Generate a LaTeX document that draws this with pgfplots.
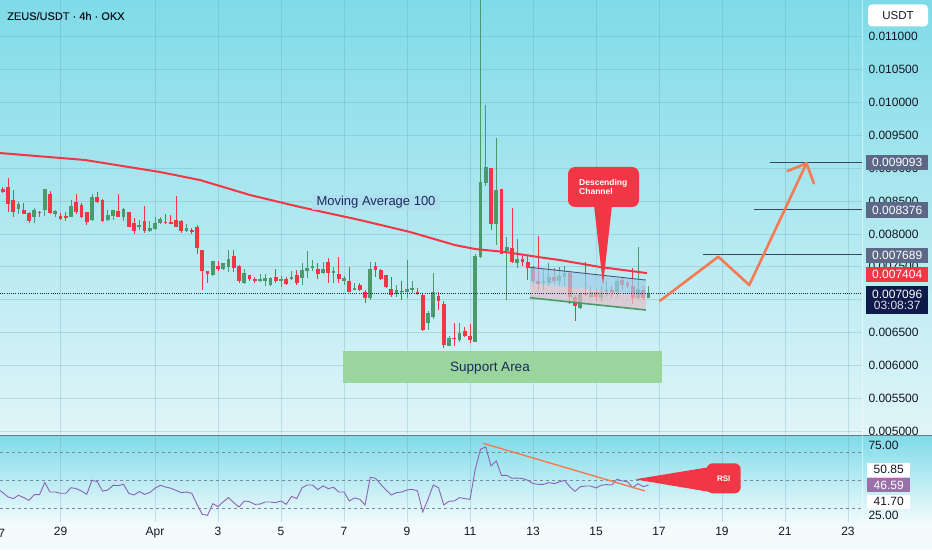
\documentclass[border=0pt]{standalone}
\usepackage{fontspec}
\setmainfont{Liberation Sans}
\usepackage{pgfplots}
\pgfplotsset{compat=1.18}
\usepackage{pgfplotstable}
\newcommand{\fs}[1]{\fontsize{#1}{#1}\selectfont}
\definecolor{bgtop}{HTML}{7FDBE8}
\definecolor{bgbot}{HTML}{E0F5F8}
\definecolor{rsibot}{HTML}{F0FAFC}
\definecolor{botband}{HTML}{F3FBFC}
\definecolor{cgreen}{HTML}{4A9A6C}
\definecolor{cred}{HTML}{F23645}
\definecolor{txt}{HTML}{131722}
\definecolor{navy}{HTML}{1B2A5C}
\definecolor{slate}{HTML}{5D6886}
\definecolor{curbox}{HTML}{0E1A4A}
\definecolor{rsipurple}{HTML}{8A63B8}
\definecolor{rsibox}{HTML}{9A70A8}
\definecolor{orng}{HTML}{F47B52}
\definecolor{supp}{HTML}{9AD59E}
\definecolor{chblue}{HTML}{9FCFEA}
\definecolor{chpink}{HTML}{E6BEC8}
\definecolor{gridc}{HTML}{5E9FAE}
\definecolor{tline}{HTML}{3A4666}
\definecolor{mabox}{HTML}{AEDDEF}
\definecolor{sepc}{HTML}{6B7B8C}
\definecolor{dashc}{HTML}{7A8AA0}

\pgfplotstableread{
i o h l c
3 0.00838 0.00848 0.00831 0.00845
6 0.00826 0.00839 0.00816 0.00837
8 0.00836 0.00869 0.00828 0.00868
10 0.00831 0.00837 0.00826 0.00835
13 0.00826 0.00851 0.00826 0.00842
17 0.00821 0.00860 0.00820 0.00856
20 0.00821 0.00837 0.00819 0.00829
21 0.00828 0.00837 0.00821 0.00836
23 0.00826 0.00839 0.00820 0.00838
26 0.00810 0.00821 0.00806 0.00813
28 0.00805 0.00820 0.00803 0.00809
29 0.00808 0.00826 0.00806 0.00817
30 0.00816 0.00826 0.00815 0.00823
35 0.00805 0.00815 0.00803 0.00809
40 0.00738 0.00759 0.00736 0.00759
42 0.00746 0.00756 0.00745 0.00755
43 0.00750 0.00776 0.00742 0.00762
46 0.00725 0.00746 0.00724 0.00741
49 0.00729 0.00739 0.00727 0.00731
50 0.00728 0.00739 0.00720 0.00733
51 0.00722 0.00735 0.00720 0.00733
53 0.00728 0.00736 0.00719 0.00731
55 0.00732 0.00743 0.00730 0.00734
57 0.00733 0.00756 0.00722 0.00745
58 0.00743 0.00774 0.00733 0.00748
59 0.00748 0.00761 0.00743 0.00751
61 0.00741 0.00758 0.00739 0.00747
63 0.00741 0.00749 0.00726 0.00744
65 0.00728 0.00736 0.00722 0.00733
67 0.00715 0.00726 0.00714 0.00718
70 0.00702 0.00758 0.00700 0.00746
75 0.00709 0.00722 0.00704 0.00714
77 0.00711 0.00760 0.00702 0.00716
78 0.00715 0.00728 0.00710 0.00717
81 0.00665 0.00682 0.00654 0.00679
82 0.00674 0.00741 0.00671 0.00711
85 0.00630 0.00645 0.00629 0.00642
87 0.00639 0.00664 0.00636 0.00649
90 0.00636 0.00769 0.00635 0.00766
91 0.00765 0.01200 0.00764 0.00879
92 0.00877 0.00996 0.00873 0.00902
94 0.00815 0.00946 0.00783 0.00867
96 0.00774 0.00796 0.00699 0.00780
98 0.00755 0.00793 0.00748 0.00762
103 0.00725 0.00746 0.00715 0.00728
104 0.00726 0.00756 0.00720 0.00735
106 0.00728 0.00750 0.00720 0.00736
107 0.00734 0.00751 0.00720 0.00741
110 0.00688 0.00711 0.00685 0.00709
112 0.00704 0.00719 0.00703 0.00712
114 0.00703 0.00721 0.00697 0.00712
115 0.00711 0.00728 0.00704 0.00714
117 0.00712 0.00731 0.00702 0.00729
121 0.00702 0.00780 0.00699 0.00716
123 0.00702 0.00720 0.00702 0.007096
}\greentab

\pgfplotstableread{
i o h l c
-1 0.00895 0.00897 0.00872 0.00876
0 0.00869 0.00872 0.00862 0.00864
1 0.00872 0.00885 0.00834 0.00845
2 0.00852 0.00867 0.00826 0.00833
4 0.00837 0.00847 0.00831 0.00831
5 0.00832 0.00834 0.00817 0.00819
7 0.00834 0.00835 0.00826 0.00832
9 0.00860 0.00866 0.00831 0.00832
11 0.00828 0.00832 0.00821 0.00823
12 0.00827 0.00833 0.00820 0.00824
14 0.00848 0.00860 0.00831 0.00834
15 0.00844 0.00847 0.00824 0.00826
16 0.00833 0.00834 0.00814 0.00818
18 0.00856 0.00864 0.00847 0.00849
19 0.00851 0.00853 0.00818 0.00819
22 0.00835 0.00860 0.00825 0.00826
24 0.00833 0.00834 0.00810 0.00811
25 0.00817 0.00824 0.00800 0.00805
27 0.00820 0.00842 0.00802 0.00805
31 0.00818 0.00830 0.00815 0.00816
32 0.00818 0.00829 0.00815 0.00815
33 0.00821 0.00857 0.00810 0.00811
34 0.00820 0.00821 0.00802 0.00805
36 0.00806 0.00809 0.00800 0.00803
37 0.00811 0.00814 0.00769 0.00779
38 0.00775 0.00776 0.00714 0.00743
39 0.00743 0.00743 0.00726 0.00739
41 0.00751 0.00759 0.00744 0.00746
44 0.00766 0.00775 0.00742 0.00748
45 0.00751 0.00752 0.00725 0.00728
47 0.00737 0.00738 0.00728 0.00731
48 0.00731 0.00735 0.00726 0.00729
52 0.00735 0.00747 0.00726 0.00728
54 0.00732 0.00735 0.00723 0.00724
56 0.00738 0.00745 0.00722 0.00725
60 0.00747 0.00756 0.00731 0.00739
62 0.00758 0.00764 0.00726 0.00740
64 0.00739 0.00765 0.00725 0.00732
66 0.00728 0.00750 0.00711 0.00712
68 0.00722 0.00726 0.00713 0.00715
69 0.00712 0.00715 0.00695 0.00702
71 0.00751 0.00758 0.00735 0.00745
72 0.00745 0.00747 0.00730 0.00731
73 0.00738 0.00738 0.00717 0.00719
74 0.00716 0.00735 0.00704 0.00707
76 0.00713 0.00728 0.00699 0.00711
79 0.00712 0.00717 0.00707 0.00710
80 0.00707 0.00710 0.00653 0.00654
83 0.00706 0.00711 0.00684 0.00698
84 0.00694 0.00698 0.00626 0.00631
86 0.00642 0.00664 0.00629 0.00640
88 0.00652 0.00659 0.00643 0.00644
89 0.00644 0.00663 0.00634 0.00638
93 0.00900 0.00900 0.00806 0.00815
95 0.00869 0.00869 0.00769 0.00770
97 0.00778 0.00839 0.00756 0.00758
99 0.00762 0.00767 0.00751 0.00758
100 0.00758 0.00766 0.00730 0.00748
101 0.00748 0.00751 0.00725 0.00728
102 0.00728 0.00797 0.00715 0.00724
105 0.00734 0.00748 0.00724 0.00728
108 0.00741 0.00743 0.00694 0.00704
109 0.00704 0.00707 0.00667 0.00690
111 0.00710 0.00758 0.00706 0.00707
113 0.00712 0.00716 0.00698 0.00704
116 0.00715 0.00720 0.00702 0.00711
118 0.00730 0.00735 0.00715 0.00722
119 0.00726 0.00728 0.00717 0.00720
120 0.00721 0.00748 0.00694 0.00702
122 0.00715 0.00720 0.00699 0.00702
}\redtab

\pgfplotstableread{
i r
-1 44.0
0 41.2
1 38.1
2 36.9
3 39.3
4 37.6
5 35.7
6 39.7
7 39.7
8 48.3
9 41.6
10 41.6
11 40.7
12 40.7
13 44.7
14 44.0
15 42.3
16 40.0
17 50.0
18 49.0
19 42.3
20 43.0
21 46.4
22 46.2
23 47.1
24 40.7
25 39.5
26 41.9
27 40.0
28 41.2
29 44.3
30 46.4
31 45.2
32 44.3
33 42.8
34 41.2
35 41.6
36 40.7
37 32.8
38 25.7
39 25.0
40 33.3
41 31.2
42 34.7
43 37.6
44 34.0
45 30.9
46 35.2
47 34.7
48 32.8
49 33.0
50 34.5
51 34.5
52 34.0
53 35.2
54 32.8
55 38.5
56 36.9
57 44.7
58 46.6
59 46.6
60 43.3
61 46.0
62 44.0
63 45.0
64 41.6
65 41.6
66 35.2
67 37.4
68 36.4
69 32.4
70 52.1
71 51.4
72 47.1
73 43.1
74 39.5
75 41.2
76 41.6
77 43.1
78 43.5
79 42.4
80 27.4
81 36.4
82 46.6
83 44.7
84 32.4
85 35.0
86 35.2
87 37.6
88 36.9
89 36.4
90 57.8
91 72.1
92 73.8
93 60.2
94 63.8
95 53.5
96 53.5
97 51.4
98 51.6
99 51.2
100 50.0
101 47.6
102 47.1
103 47.1
104 48.3
105 47.6
106 48.8
107 50.0
108 45.4
109 42.1
110 45.4
111 45.9
112 45.9
113 44.5
114 46.4
115 46.9
116 46.6
117 50.7
118 49.5
119 49.0
120 44.7
121 47.6
122 45.4
123 46.59
}\rsitab

\begin{document}
\begin{tikzpicture}
\useasboundingbox (0pt,0pt) rectangle (932pt,550pt);
\begin{scope}[shift={(0pt,550pt)},x=1pt,y=-1pt]
  \shade[top color=bgtop,bottom color=bgbot] (0,0) rectangle (932,435);
  \shade[top color=bgtop,bottom color=rsibot] (0,435) rectangle (932,522);
  \fill[botband] (0,522) rectangle (932,550);
\end{scope}

% ---------------- main price panel ----------------
\begin{axis}[
  at={(0pt,116pt)}, anchor=south west,
  width=862pt, height=434pt, scale only axis,
  xmin=-0.53, xmax=163.67, ymin=0.004955, ymax=0.011560,
  axis line style={draw=none}, major tick length=0pt,
  xtick={-1,11,29,41,53,65,77,89,101,113,125,137,149,161},
  xticklabels={},
  xticklabel style={opacity=0},
  ytick={0.0050,0.0055,0.0060,0.0065,0.0075,0.0080,0.0085,0.0090,0.0095,0.0100,0.0105,0.0110},
  extra y ticks={0.0070}, extra y tick labels={},
  yticklabel pos=right, scaled y ticks=false,
  yticklabel style={font=\fs{12}, text=txt, xshift=3pt,
    /pgf/number format/.cd, fixed, fixed zerofill, precision=6, assume math mode=true},
  grid=major, grid style={gridc, opacity=0.28, line width=0.6pt},
]
  % support area
  \fill[supp] (axis cs:64.8,0.005731) rectangle (axis cs:125.6,0.006218);
  % wicks
  \addplot[cgreen, line width=1pt, quiver={u=0,v=\thisrow{h}-\thisrow{l}}] table[x=i,y=l] {\greentab};
  \addplot[cred, line width=1pt, quiver={u=0,v=\thisrow{h}-\thisrow{l}}] table[x=i,y=l] {\redtab};
  % bodies
  \addplot[cgreen, line width=3.7pt, quiver={u=0,v=\thisrow{c}-\thisrow{o}}] table[x=i,y=o] {\greentab};
  \addplot[cred, line width=3.7pt, quiver={u=0,v=\thisrow{c}-\thisrow{o}}] table[x=i,y=o] {\redtab};
  % moving average 100
  \addplot[cred, line width=2pt] coordinates {
    (-0.52,0.009231) (15.67,0.009125) (29.95,0.008942) (37.57,0.008820)
    (47.1,0.008592) (56.6,0.008410) (68.0,0.008212) (77.6,0.008029)
    (86.1,0.007831) (90.0,0.007770) (95.7,0.007725) (103.3,0.007633)
    (106.1,0.007603) (113.8,0.007496) (122.7,0.007404)};
  % descending channel
  \fill[chblue, opacity=0.7] (axis cs:100.4,0.007492) -- (axis cs:122.5,0.007298) -- (axis cs:122.5,0.007070) -- (axis cs:100.4,0.007248) -- cycle;
  \fill[chpink, opacity=0.7] (axis cs:100.4,0.007248) -- (axis cs:122.5,0.007070) -- (axis cs:122.5,0.006842) -- (axis cs:100.4,0.007029) -- cycle;
  \draw[navy!80, line width=0.9pt] (axis cs:100.4,0.007492) -- (axis cs:122.5,0.007298);
  \draw[cgreen, line width=1.6pt] (axis cs:100.4,0.007029) -- (axis cs:122.5,0.006842);
  % current price dotted line
  \draw[navy, line width=0.9pt, dash pattern=on 1pt off 1.2pt] (axis cs:-0.53,0.007096) -- (axis cs:163.67,0.007096);
  % target lines
  \draw[tline, line width=1.1pt] (axis cs:133.4,0.007689) -- (axis cs:163.67,0.007689);
  \draw[tline, line width=1.1pt] (axis cs:143.1,0.008376) -- (axis cs:163.67,0.008376);
  \draw[tline, line width=1.1pt] (axis cs:146.1,0.009093) -- (axis cs:163.67,0.009093);
  % projected path
  \draw[orng, line width=2.6pt, line cap=round, line join=round]
    (axis cs:125.2,0.006983) -- (axis cs:136.3,0.007653) -- (axis cs:142.2,0.007222) -- (axis cs:153.1,0.009075);
  \draw[orng, line width=2.6pt, line cap=round, line join=round]
    (axis cs:149.5,0.008957) -- (axis cs:153.1,0.009075) -- (axis cs:154.5,0.008770);
\end{axis}

% ---------------- RSI panel ----------------
\begin{axis}[
  at={(0pt,28pt)}, anchor=south west,
  width=862pt, height=86pt, scale only axis,
  xmin=-0.53, xmax=163.67, ymin=20.2, ymax=81.6,
  axis line style={draw=none}, major tick length=0pt,
  xtick={-1,11,29,41,53,65,77,89,101,113,125,137,149,161},
  xticklabels={27,29,Apr,3,5,7,9,11,13,15,17,19,21,23},
  xticklabel style={font=\fs{12}, text=txt, yshift=-2pt},
  ytick={25,75}, yticklabel pos=right,
  yticklabel style={font=\fs{12}, text=txt, xshift=3pt,
    /pgf/number format/.cd, fixed, fixed zerofill, precision=2, assume math mode=true},
  xmajorgrids, grid style={gridc, opacity=0.28, line width=0.6pt},
]
  \draw[dashc, line width=0.8pt, dash pattern=on 3pt off 3pt] (axis cs:-0.53,70) -- (axis cs:163.67,70);
  \draw[dashc, line width=0.8pt, dash pattern=on 3pt off 3pt] (axis cs:-0.53,50) -- (axis cs:163.67,50);
  \draw[dashc, line width=0.8pt, dash pattern=on 3pt off 3pt] (axis cs:-0.53,30) -- (axis cs:163.67,30);
  \addplot[rsipurple, line width=0.9pt] table[x=i,y=r] {\rsitab};
  \addplot[orng, line width=1.4pt] coordinates {(91.5,76.4) (122.3,42.4)};
\end{axis}

% ---------------- overlays (pixel coordinates) ----------------
\begin{scope}[shift={(0pt,550pt)},x=1pt,y=-1pt]
  \draw[sepc, line width=0.9pt] (0,435) -- (932,435);
  \draw[white, opacity=0.5, line width=0.6pt] (862,0) -- (862,522);
  % first (partly cut) date label
  \node[inner sep=0pt, font=\fs{12}, text=txt] at (-1.5,533) {27};
  % title
  \node[anchor=west, inner sep=0pt, font=\fs{11}\addfontfeature{FakeBold=0.4}, text=txt] at (7,16) {ZEUS/USDT · 4h · OKX};
  % MA label
  \node[fill=mabox, fill opacity=0.75, text opacity=1, inner sep=0pt, minimum width=128pt, minimum height=16pt, font=\fs{13}, text=navy] at (376,202.5) {Moving Average 100};
  % support area label
  \node[inner sep=0pt, font=\fs{13.5}, text=navy] at (490,368) {Support Area};
  % descending channel callout
  \fill[cred, rounded corners=7pt] (568,167) rectangle (639,207);
  \fill[cred] (594,205) -- (612,205) -- (603,285) -- cycle;
  \node[anchor=west, inner sep=0pt, align=left, text=white, font=\bfseries\fontsize{8.5}{9.5}\selectfont] at (579,187) {Descending\\Channel};
  % RSI callout
  \fill[cred] (635,479.3) -- (710,467) -- (710,492) -- cycle;
  \fill[cred, rounded corners=6pt] (706.7,463.3) rectangle (740.7,493.3);
  \node[inner sep=0pt, text=white, font=\bfseries\fs{8}] at (723.7,478.3) {RSI};
  % right axis boxes
  \node[fill=white, rounded corners=4pt, minimum width=60pt, minimum height=22pt, inner sep=0pt, font=\fs{11.5}, text=txt] at (898,15.5) {USDT};
  \node[anchor=west, fill=slate, text=white, minimum width=62pt, minimum height=15pt, inner sep=0pt, font=\fs{12}] at (866,162.8) {0.009093};
  \node[anchor=west, fill=slate, text=white, minimum width=62pt, minimum height=15pt, inner sep=0pt, font=\fs{12}] at (866,210) {0.008376};
  \node[anchor=west, fill=slate, text=white, minimum width=62pt, minimum height=15pt, inner sep=0pt, font=\fs{12}] at (866,255) {0.007689};
  \node[anchor=west, fill=cred, text=white, minimum width=62pt, minimum height=15.5pt, inner sep=0pt, font=\fs{12}] at (866,274.6) {0.007404};
  \node[anchor=west, fill=curbox, text=white, minimum width=62pt, minimum height=28pt, inner sep=0pt, align=center, font=\fontsize{12}{11}\selectfont] at (866,300) {0.007096\\\textcolor{white!75!rsibox}{03:08:37}};
  \node[anchor=west, fill=white, text=txt, minimum width=43pt, minimum height=14pt, inner sep=0pt, font=\fs{12}] at (867,469.5) {50.85};
  \node[anchor=west, fill=rsibox, text=white, minimum width=43pt, minimum height=14pt, inner sep=0pt, font=\fs{12}] at (867,485) {46.59};
  \node[anchor=west, fill=white, text=txt, minimum width=43pt, minimum height=14pt, inner sep=0pt, font=\fs{12}] at (867,501.7) {41.70};
\end{scope}
\end{tikzpicture}
\end{document}
